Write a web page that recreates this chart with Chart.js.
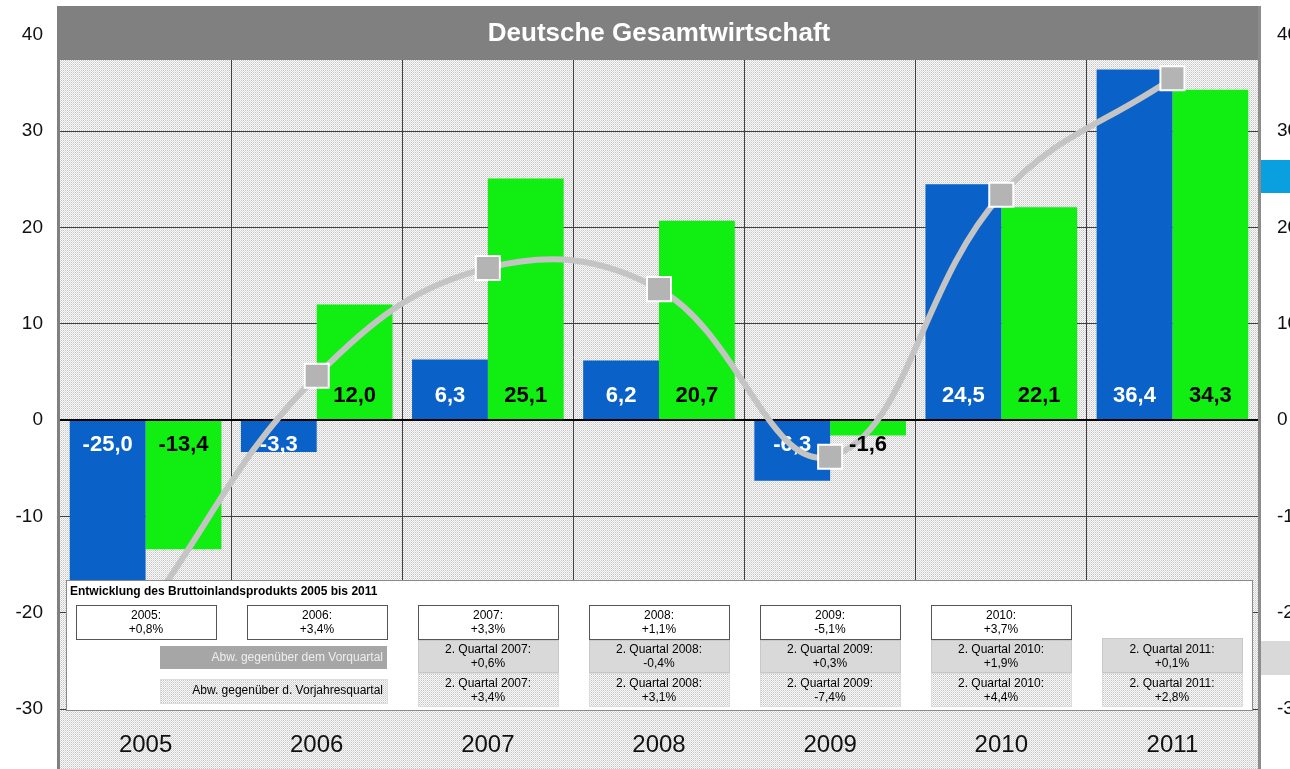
<!DOCTYPE html>
<html>
<head>
<meta charset="utf-8">
<script src="https://cdn.jsdelivr.net/npm/chart.js@4/dist/chart.umd.min.js"></script>
<style>
  html, body { margin: 0; padding: 0; overflow: hidden; background: #fff; }
</style>
</head>
<body>
<canvas id="chart" width="1330" height="769"></canvas>
<script>
// Data
const years = ['2005', '2006', '2007', '2008', '2009', '2010', '2011'];
const vorquartal = [-25.0, -3.3, 6.3, 6.2, -6.3, 24.5, 36.4];
const vorjahr = [-13.4, 12.0, 25.1, 20.7, -1.6, 22.1, 34.3];
const trend = [-20.0, 4.6, 15.8, 13.6, -3.8, 23.4, 35.5];
const yTicks = [-30, -20, -10, 0, 10, 20, 30, 40];

// Table texts (BIP)
const bipJahr = ['+0,8%', '+3,4%', '+3,3%', '+1,1%', '-5,1%', '+3,7%', null];
const bipVorquartal = [null, null, '+0,6%', '-0,4%', '+0,3%', '+1,9%', '+0,1%'];
const bipVorjahr = [null, null, '+3,4%', '+3,1%', '-7,4%', '+4,4%', '+2,8%'];

const FONT = 'Liberation Sans, Arial, sans-serif';

// Utility: dotted texture like the original background
let texCache = null;
function texture(ctx) {
  if (texCache) return texCache;
  const c = document.createElement('canvas');
  c.width = 2; c.height = 2;
  const t = c.getContext('2d');
  t.fillStyle = '#fafafa'; t.fillRect(0, 0, 2, 2);
  t.fillStyle = '#c4c4c4'; t.fillRect(1, 0, 1, 1);
  t.fillStyle = '#dcdcdc'; t.fillRect(0, 1, 1, 1);
  texCache = ctx.createPattern(c, 'repeat');
  return texCache;
}

function fmt(v) {
  return v.toFixed(1).replace('.', ',');
}

function twoLines(ctx, x, y1, y2, a, b) {
  ctx.fillText(a, x, y1);
  ctx.fillText(b, x, y2);
}

// Value labels near the zero line (blue: white text, green: black text)
function drawBarLabels(chart, index) {
  const { ctx } = chart;
  const zero = chart.scales.y.getPixelForValue(0);
  const meta = chart.getDatasetMeta(index);
  ctx.save();
  ctx.font = 'bold 22px ' + FONT;
  ctx.textAlign = 'center';
  ctx.textBaseline = 'middle';
  ctx.fillStyle = index === 0 ? '#ffffff' : '#000000';
  meta.data.forEach((bar, i) => {
    const v = chart.data.datasets[index].data[i];
    const y = v >= 0 ? zero - 24 : zero + 25;
    ctx.fillText(fmt(v), bar.x, y);
  });
  ctx.restore();
}

const framePlugin = {
  id: 'frame',
  beforeDraw(chart) {
    const { ctx, chartArea: a } = chart;
    ctx.save();
    ctx.fillStyle = '#fff';
    ctx.fillRect(0, 0, chart.width, chart.height);
    ctx.fillStyle = texture(ctx);
    ctx.fillRect(a.left, a.top, a.right - a.left, chart.height - a.top);
    ctx.restore();
  },
  afterDatasetDraw(chart, args) {
    if (args.index === 0) drawBarLabels(chart, 0);
  },
  afterDatasetsDraw(chart) {
    drawBarLabels(chart, 1);
  },
  afterDraw(chart) {
    const { ctx, chartArea: a } = chart;
    const xs = chart.scales.x;
    ctx.save();

    // Title bar
    ctx.fillStyle = '#808080';
    ctx.fillRect(a.left - 3, 6, a.right - a.left + 6, 54);
    ctx.fillStyle = '#ffffff';
    ctx.font = 'bold 26px ' + FONT;
    ctx.textAlign = 'center';
    ctx.textBaseline = 'middle';
    ctx.fillText('Deutsche Gesamtwirtschaft', (a.left + a.right) / 2, 34);

    // Left / right frame
    ctx.fillStyle = '#808080';
    ctx.fillRect(a.left - 3, 6, 3, chart.height - 6);
    ctx.fillStyle = '#8c8c8c';
    ctx.fillRect(a.right, 6, 3, chart.height - 6);

    // Cut-off legend marks on the right
    ctx.fillStyle = '#0aa0e0';
    ctx.fillRect(a.right + 3, 160, 80, 33);
    ctx.fillStyle = '#d9d9d9';
    ctx.fillRect(a.right + 3, 641, 80, 34);

    // Table
    ctx.fillStyle = '#ffffff';
    ctx.fillRect(66, 580, 1186, 130);
    ctx.strokeStyle = '#8a8a8a';
    ctx.lineWidth = 1;
    ctx.strokeRect(66.5, 580.5, 1186, 130);

    ctx.fillStyle = '#000';
    ctx.font = 'bold 12px ' + FONT;
    ctx.textAlign = 'left';
    ctx.fillText('Entwicklung des Bruttoinlandsprodukts 2005 bis 2011', 70, 592);

    ctx.font = '12px ' + FONT;
    ctx.textAlign = 'center';
    years.forEach((yr, i) => {
      const cx = Math.round(xs.getPixelForValue(i));
      const x0 = cx - 70;
      if (bipJahr[i]) {
        ctx.fillStyle = '#fff';
        ctx.fillRect(x0, 605, 140, 34);
        ctx.strokeStyle = '#555';
        ctx.strokeRect(x0 + 0.5, 605.5, 140, 34);
        ctx.fillStyle = '#000';
        twoLines(ctx, cx, 616, 630, yr + ':', bipJahr[i]);
      }
      if (bipVorquartal[i]) {
        const top = bipJahr[i] ? 640 : 638;
        ctx.fillStyle = '#d9d9d9';
        ctx.fillRect(x0, top, 140, 672 - top);
        ctx.strokeStyle = '#c8c8c8';
        ctx.strokeRect(x0 + 0.5, top + 0.5, 140, 672 - top);
        ctx.fillStyle = '#000';
        twoLines(ctx, cx, 650, 664, '2. Quartal ' + yr + ':', bipVorquartal[i]);
      }
      if (bipVorjahr[i]) {
        ctx.fillStyle = texture(ctx);
        ctx.fillRect(x0, 673, 140, 33);
        ctx.strokeStyle = '#dcdcdc';
        ctx.strokeRect(x0 + 0.5, 673.5, 140, 33);
        ctx.fillStyle = '#000';
        twoLines(ctx, cx, 684, 698, '2. Quartal ' + yr + ':', bipVorjahr[i]);
      }
    });

    // Legend boxes of the table
    ctx.fillStyle = '#a6a6a6';
    ctx.fillRect(160, 646, 227, 23);
    ctx.fillStyle = texture(ctx);
    ctx.fillRect(160, 679, 227, 24);
    ctx.strokeStyle = '#dddddd';
    ctx.strokeRect(160.5, 679.5, 227, 24);
    ctx.textAlign = 'right';
    ctx.fillStyle = '#eeeeee';
    ctx.fillText('Abw. gegenüber dem Vorquartal', 383, 658);
    ctx.fillStyle = '#000';
    ctx.fillText('Abw. gegenüber d. Vorjahresquartal', 383, 691);

    ctx.restore();
  }
};

const ctx = document.getElementById('chart').getContext('2d');
const yCommon = {
  min: -30,
  max: 43,
  afterBuildTicks(s) { s.ticks = yTicks.map(v => ({ value: v })); },
  border: { display: false }
};

new Chart(ctx, {
  type: 'bar',
  data: {
    labels: years,
    datasets: [
      {
        label: 'Vorquartal',
        data: vorquartal,
        backgroundColor: '#0a62c8',
        borderWidth: 0,
        categoryPercentage: 0.886,
        barPercentage: 1,
        order: 2
      },
      {
        label: 'Vorjahresquartal',
        data: vorjahr,
        backgroundColor: '#11ee11',
        borderWidth: 0,
        categoryPercentage: 0.886,
        barPercentage: 1,
        order: 2
      },
      {
        type: 'line',
        label: 'Trend',
        data: trend,
        borderColor: '#c4c4c4',
        borderWidth: 6,
        tension: 0.4,
        pointStyle: 'rect',
        pointRadius: 17,
        pointBackgroundColor: '#b4b4b4',
        pointBorderColor: '#ffffff',
        pointBorderWidth: 2,
        order: 0
      }
    ]
  },
  options: {
    responsive: false,
    animation: false,
    layout: { autoPadding: false, padding: { top: 6, right: 0, bottom: 0, left: 0 } },
    plugins: { legend: { display: false }, tooltip: { enabled: false } },
    scales: {
      x: {
        grid: { color: '#404040', lineWidth: 1, drawTicks: false, offset: true },
        border: { display: false },
        ticks: { font: { family: FONT, size: 24 }, color: '#111', padding: 22 },
        afterFit(s) { s.height = 60; s.paddingLeft = 0; s.paddingRight = 0; }
      },
      y: Object.assign({}, yCommon, {
        position: 'left',
        grid: {
          color: c => c.tick.value === 0 ? '#000' : '#404040',
          lineWidth: c => c.tick.value === 0 ? 2 : 1,
          drawTicks: false
        },
        ticks: { font: { family: FONT, size: 19 }, color: '#111', padding: 17 },
        afterFit(s) { s.width = 60; s.paddingTop = 0; s.paddingBottom = 0; }
      }),
      y2: Object.assign({}, yCommon, {
        position: 'right',
        grid: { display: false, drawTicks: false },
        ticks: { font: { family: FONT, size: 19 }, color: '#111', padding: 19 },
        afterFit(s) { s.width = 72; s.paddingTop = 0; s.paddingBottom = 0; }
      })
    }
  },
  plugins: [framePlugin]
});
</script>
</body>
</html>
